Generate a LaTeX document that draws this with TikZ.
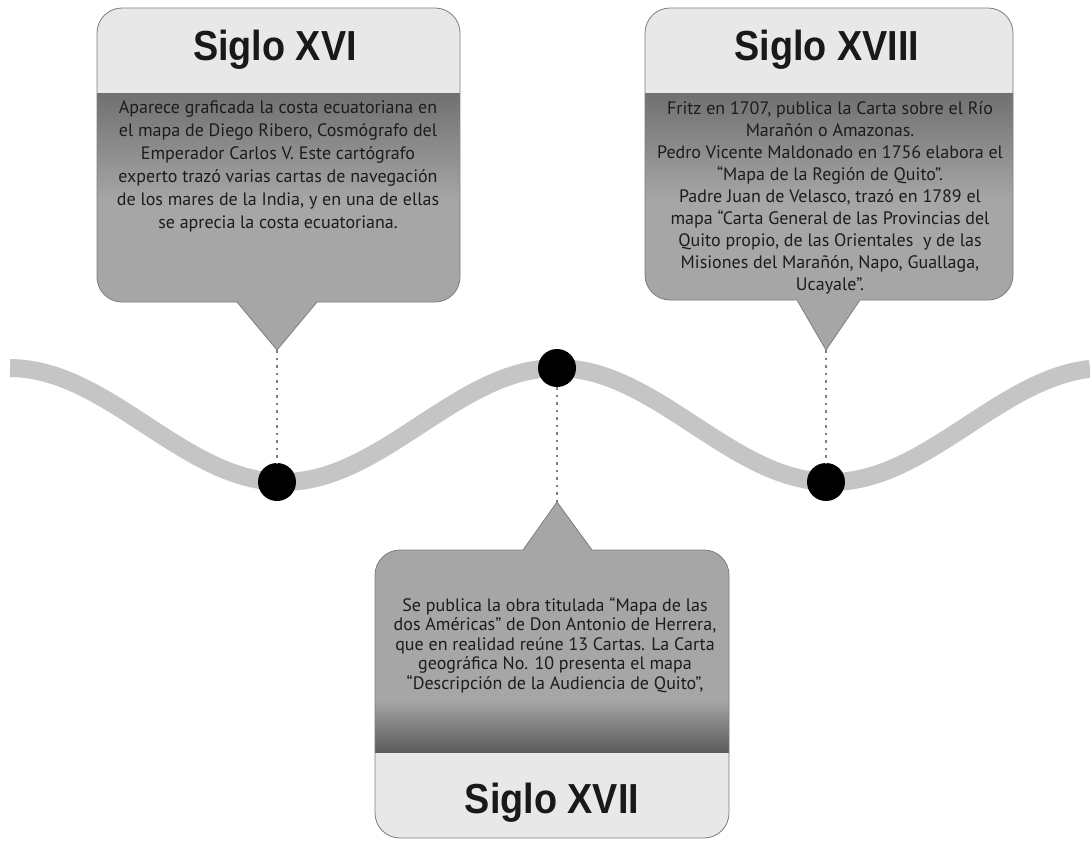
\documentclass[tikz,border=0pt]{standalone}
\usepackage{fontspec}
\setmainfont{PT Sans}
\newfontfamily\titlefont{Liberation Sans}
\definecolor{wavegray}{RGB}{196,197,196}
\definecolor{headgray}{RGB}{232,232,232}
\definecolor{bodygray}{RGB}{166,166,166}
\definecolor{shadegray}{RGB}{112,112,112}
\definecolor{deepgray}{RGB}{90,90,90}
\definecolor{edgegray}{RGB}{125,125,125}
\definecolor{textgray}{RGB}{28,28,28}

\begin{document}
\begin{tikzpicture}[x=1pt, y=-1pt,
	title/.style={font=\titlefont\bfseries\fontsize{42}{42}\selectfont, xscale=0.9, text=black!90},
	bodytext/.style={font=\fontsize{18}{22}\selectfont, align=center, text=textgray},
	callout/.style={draw=edgegray, line width=0.8pt},
	dot/.style={circle, fill=black, minimum size=38pt, inner sep=0pt},
	leader/.style={draw=gray, line width=2.4pt, dash pattern=on 2.5pt off 5pt}]
	\fill[white] (0,0) rectangle (1090,841);
	\useasboundingbox (0,0) rectangle (1090,841);

	% wave
	\draw[wavegray, line width=18pt] plot[domain=10:1090, samples=220] (\x, {425-57*cos((\x-557)/548*360)});

	% Siglo XVI
	\draw[callout, path picture={
		\fill[sharp corners, headgray] (90,0) rectangle (470,93);
		\shade[sharp corners, top color=shadegray, bottom color=bodygray] (90,93) rectangle (470,200);
		\fill[sharp corners, bodygray] (90,200) rectangle (470,360);
	}] (277,350) -- (237,302) -- (180,302) [rounded corners=25pt] -| (97,150) |- (278,8) -| (460,150) |- (390,302) [sharp corners] -- (317,302) -- cycle;
	\coordinate (tip1) at (277,350);
	\node[title] (h1) at (275,50) {Siglo XVI};
	\node[bodytext, font=\fontsize{18}{23}\selectfont] (t1) at (278,166) {Aparece graficada la costa ecuatoriana en\\el mapa de Diego Ribero, Cosmógrafo del\\Emperador Carlos V. Este cartógrafo\\experto trazó varias cartas de navegación\\de los mares de la India, y en una de ellas\\se aprecia la costa ecuatoriana.};

	% Siglo XVII
	\draw[callout, path picture={
		\fill[sharp corners, bodygray] (370,490) rectangle (740,700);
		\shade[sharp corners, top color=bodygray, bottom color=deepgray] (370,700) rectangle (740,753);
		\fill[sharp corners, headgray] (370,753) rectangle (740,845);
	}] (557,502) -- (592,550) -- (650,550) [rounded corners=25pt] -| (729,700) |- (552,838) -| (375,700) |- (450,550) [sharp corners] -- (523,550) -- cycle;
	\coordinate (tip2) at (557,502);
	\node[title] (h2) at (552,803) {Siglo XVII};
	\node[bodytext, font=\fontsize{18}{19.5}\selectfont] (t2) at (555,645) {Se publica la obra titulada “Mapa de las\\dos Américas” de Don Antonio de Herrera,\\que en realidad reúne 13 Cartas. La Carta\\geográfica No. 10 presenta el mapa\\“Descripción de la Audiencia de Quito”,};

	% Siglo XVIII
	\draw[callout, path picture={
		\fill[sharp corners, headgray] (640,0) rectangle (1020,93);
		\shade[sharp corners, top color=shadegray, bottom color=bodygray] (640,93) rectangle (1020,200);
		\fill[sharp corners, bodygray] (640,200) rectangle (1020,360);
	}] (826,350) -- (797,300) -- (720,300) [rounded corners=25pt] -| (645,150) |- (829,8) -| (1013,150) |- (930,300) [sharp corners] -- (860,300) -- cycle;
	\coordinate (tip3) at (826,350);
	\node[title] (h3) at (827,50) {Siglo XVIII};
	\node[bodytext] (t3) at (830,198) {Fritz en 1707, publica la Carta sobre el Río\\Marañón o Amazonas.\\Pedro Vicente Maldonado en 1756 elabora el\\“Mapa de la Región de Quito”.\\Padre Juan de Velasco, trazó en 1789 el\\mapa “Carta General de las Provincias del\\Quito propio, de las Orientales~ y de las\\Misiones del Marañón, Napo, Guallaga,\\Ucayale”.};

	% dots on the wave
	\node[dot] (d1) at (277,482) {};
	\node[dot] (d2) at (557,368) {};
	\node[dot] (d3) at (826,482) {};
	\draw[leader] (tip1) -- (d1);
	\draw[leader] (d2) -- (tip2);
	\draw[leader] (tip3) -- (d3);
\end{tikzpicture}
\end{document}
